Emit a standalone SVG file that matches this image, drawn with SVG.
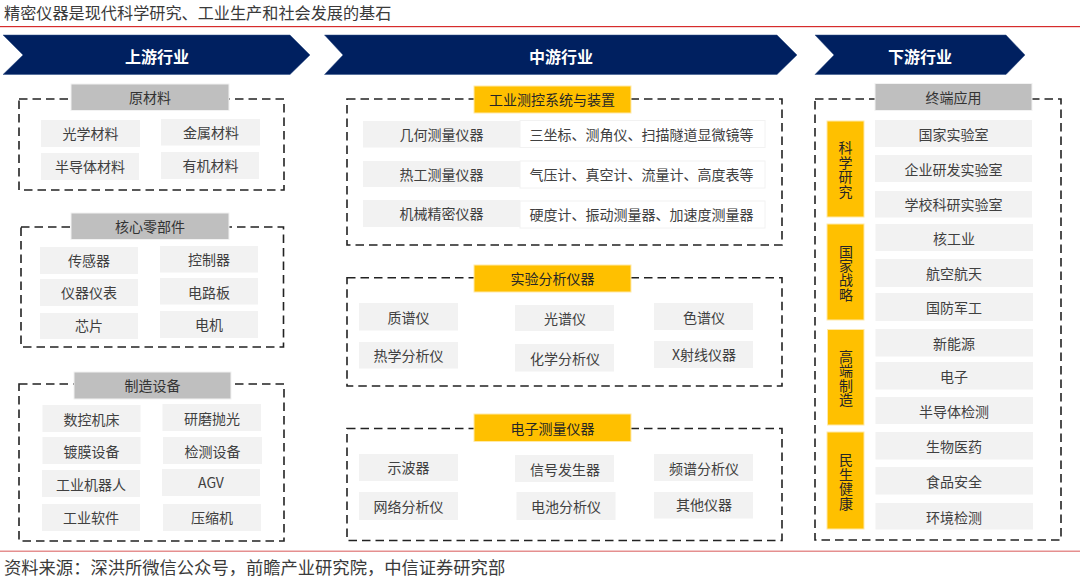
<svg xmlns="http://www.w3.org/2000/svg" width="1080" height="579" viewBox="0 0 1080 579">
<style>
text{font-family:"Noto Sans CJK SC","Noto Sans",sans-serif;font-size:14px;fill:#404040;text-anchor:middle}
.cap{font-size:16.15px;fill:#3a3a3a;text-anchor:start}
.src{font-size:17.3px;fill:#3a3a3a;text-anchor:start}
.arr{fill:#002060;stroke:#2f4f86;stroke-width:.5}
.arrt{font-size:16px;font-weight:700;fill:#fff}
.box{fill:none;stroke:#222;stroke-width:1.6;stroke-dasharray:8.5 5}
.gh{fill:#bfbfbf;stroke:#f2f2f2;stroke-width:1}
.yh{fill:#ffc000;stroke:#ffe9a8;stroke-width:1}
.it{fill:#f2f2f2}
.wh{fill:#fff;stroke:#f2f2f2;stroke-width:1}
.yt{fill:#262626}
.d{fill:#333}
</style>
<g id="header">
<text class="cap" x="4" y="18.5">精密仪器是现代科学研究、工业生产和社会发展的基石</text>
<rect x="0" y="26" width="1080" height="1.2" fill="#d62c2c"/>
</g>
<g id="upstream-banner"><polygon class="arr" points="3,35 290,35 310,55 290,74.5 3,74.5 23,55"/><text class="arrt" x="157" y="62.5">上游行业</text></g>
<g id="midstream-banner"><polygon class="arr" points="324.5,35 777,35 797,55 777,74.5 324.5,74.5 343,55"/><text class="arrt" x="561" y="62.5">中游行业</text></g>
<g id="downstream-banner"><polygon class="arr" points="815,35 1006,35 1025,55 1006,74.5 815,74.5 834,55"/><text class="arrt" x="920" y="62.5">下游行业</text></g>

<g id="raw-materials">
<rect class="box" x="19" y="99" width="265" height="91"/>
<g id="raw-title"><rect class="gh" x="71" y="84" width="158" height="26.5"/><text class="d" x="150" y="103">原材料</text></g>
<g id="raw-1"><rect class="it" x="41" y="120" width="99" height="27"/><text x="90.5" y="139">光学材料</text></g>
<g id="raw-2"><rect class="it" x="161" y="119" width="99" height="26.5"/><text x="211" y="138">金属材料</text></g>
<g id="raw-3"><rect class="it" x="41" y="153" width="98" height="27"/><text x="90" y="172">半导体材料</text></g>
<g id="raw-4"><rect class="it" x="161" y="152" width="98" height="27"/><text x="210.5" y="171">有机材料</text></g>
</g>

<g id="core-parts">
<rect class="box" x="21" y="227" width="262.5" height="120"/>
<g id="core-title"><rect class="gh" x="71" y="213" width="158" height="26.5"/><text class="d" x="150" y="232">核心零部件</text></g>
<g id="core-1"><rect class="it" x="40" y="247" width="98" height="27"/><text x="89" y="266">传感器</text></g>
<g id="core-2"><rect class="it" x="160" y="246" width="98" height="26.5"/><text x="209" y="265">控制器</text></g>
<g id="core-3"><rect class="it" x="40" y="279" width="98" height="27"/><text x="89" y="298">仪器仪表</text></g>
<g id="core-4"><rect class="it" x="160" y="278" width="98" height="26.5"/><text x="209" y="298">电路板</text></g>
<g id="core-5"><rect class="it" x="40" y="313" width="98" height="26"/><text x="89" y="331">芯片</text></g>
<g id="core-6"><rect class="it" x="160" y="311" width="98" height="27"/><text x="209" y="330">电机</text></g>
</g>

<g id="equipment">
<rect class="box" x="19" y="384" width="265" height="157"/>
<g id="equip-title"><rect class="gh" x="74" y="372" width="157" height="27"/><text class="d" x="152.5" y="391">制造设备</text></g>
<g id="equip-1"><rect class="it" x="42.5" y="405" width="98" height="27"/><text x="91.5" y="425">数控机床</text></g>
<g id="equip-2"><rect class="it" x="162.5" y="404" width="98.5" height="27"/><text x="212" y="424">研磨抛光</text></g>
<g id="equip-3"><rect class="it" x="42.5" y="437" width="98" height="27"/><text x="91.5" y="457">镀膜设备</text></g>
<g id="equip-4"><rect class="it" x="163" y="437" width="99" height="27"/><text x="212.5" y="457">检测设备</text></g>
<g id="equip-5"><rect class="it" x="42" y="470" width="98" height="27"/><text x="91" y="490">工业机器人</text></g>
<g id="equip-6"><rect class="it" x="162" y="469" width="98" height="27"/><text x="211" y="488">AGV</text></g>
<g id="equip-7"><rect class="it" x="42" y="504" width="98" height="27"/><text x="91" y="523">工业软件</text></g>
<g id="equip-8"><rect class="it" x="163" y="504" width="98" height="27"/><text x="212" y="523">压缩机</text></g>
</g>

<g id="control-systems">
<rect class="box" x="347" y="99" width="435" height="146"/>
<g id="ctrl-title"><rect class="yh" x="474" y="86" width="157" height="27"/><text class="yt" x="552" y="105">工业测控系统与装置</text></g>
<g id="ctrl-1"><rect class="it" x="363" y="121" width="157" height="26.5"/><text x="441.5" y="140">几何测量仪器</text><rect class="wh" x="520" y="120.5" width="245" height="27"/><text x="641.5" y="140">三坐标、测角仪、扫描隧道显微镜等</text></g>
<g id="ctrl-2"><rect class="it" x="363" y="161" width="157" height="26"/><text x="441.5" y="180">热工测量仪器</text><rect class="wh" x="520" y="161" width="245" height="27"/><text x="641.5" y="180">气压计、真空计、流量计、高度表等</text></g>
<g id="ctrl-3"><rect class="it" x="363" y="200" width="157" height="27"/><text x="441.5" y="219">机械精密仪器</text><rect class="wh" x="520" y="201" width="245" height="27"/><text x="641.5" y="220">硬度计、振动测量器、加速度测量器</text></g>
</g>

<g id="lab-analysis">
<rect class="box" x="347" y="277.7" width="435" height="108.3"/>
<g id="lab-title"><rect class="yh" x="474" y="265" width="157" height="27"/><text class="yt" x="552.5" y="284">实验分析仪器</text></g>
<g id="lab-1"><rect class="it" x="359" y="303" width="99" height="27.5"/><text x="408.5" y="323">质谱仪</text></g>
<g id="lab-2"><rect class="it" x="515" y="305" width="99" height="26"/><text x="565" y="324">光谱仪</text></g>
<g id="lab-3"><rect class="it" x="654" y="303" width="99" height="27"/><text x="704" y="323">色谱仪</text></g>
<g id="lab-4"><rect class="it" x="359" y="342" width="99" height="26.5"/><text x="408.5" y="361">热学分析仪</text></g>
<g id="lab-5"><rect class="it" x="515" y="344" width="99" height="27.5"/><text x="565" y="364">化学分析仪</text></g>
<g id="lab-6"><rect class="it" x="654" y="341" width="99" height="27"/><text x="704" y="360">X射线仪器</text></g>
</g>

<g id="electronic">
<rect class="box" x="347" y="428.5" width="435" height="112"/>
<g id="elec-title"><rect class="yh" x="474" y="414" width="157" height="27.5"/><text class="yt" x="552.5" y="434">电子测量仪器</text></g>
<g id="elec-1"><rect class="it" x="359" y="454" width="99" height="27"/><text x="408.5" y="473">示波器</text></g>
<g id="elec-2"><rect class="it" x="515" y="455" width="99" height="27"/><text x="565" y="475">信号发生器</text></g>
<g id="elec-3"><rect class="it" x="654" y="454" width="99" height="27"/><text x="704" y="474">频谱分析仪</text></g>
<g id="elec-4"><rect class="it" x="359" y="492" width="99" height="28"/><text x="408.5" y="512">网络分析仪</text></g>
<g id="elec-5"><rect class="it" x="516.5" y="492" width="99" height="28"/><text x="566" y="512">电池分析仪</text></g>
<g id="elec-6"><rect class="it" x="654" y="492" width="99" height="26.5"/><text x="704" y="510">其他仪器</text></g>
</g>

<g id="applications">
<rect class="box" x="815" y="99" width="246" height="441"/>
<g id="app-title"><rect class="gh" x="875" y="83.5" width="157" height="27"/><text class="d" x="953.5" y="103">终端应用</text></g>
<g id="cat-science"><rect class="yh" x="827" y="121" width="37" height="96"/><text class="yt" x="845.5" y="153"><tspan x="845.5">科</tspan><tspan x="845.5" dy="14.7">学</tspan><tspan x="845.5" dy="14.7">研</tspan><tspan x="845.5" dy="14.7">究</tspan></text></g>
<g id="cat-strategy"><rect class="yh" x="827" y="224" width="37" height="96"/><text class="yt" x="846" y="256.7"><tspan x="846">国</tspan><tspan x="846" dy="14.3">家</tspan><tspan x="846" dy="14.3">战</tspan><tspan x="846" dy="14.3">略</tspan></text></g>
<g id="cat-manufacturing"><rect class="yh" x="827.5" y="329.5" width="36.5" height="95.5"/><text class="yt" x="846" y="361.7"><tspan x="846">高</tspan><tspan x="846" dy="14.5">端</tspan><tspan x="846" dy="14.5">制</tspan><tspan x="846" dy="14.5">造</tspan></text></g>
<g id="cat-health"><rect class="yh" x="827" y="432" width="37" height="97"/><text class="yt" x="846" y="465"><tspan x="846">民</tspan><tspan x="846" dy="14.5">生</tspan><tspan x="846" dy="14.5">健</tspan><tspan x="846" dy="14.5">康</tspan></text></g>
<g id="app-1"><rect class="it" x="875" y="120" width="157" height="27"/><text x="953.5" y="140">国家实验室</text></g>
<g id="app-2"><rect class="it" x="875" y="155" width="157" height="27"/><text x="953.5" y="175">企业研发实验室</text></g>
<g id="app-3"><rect class="it" x="875" y="191" width="157" height="26.5"/><text x="953.5" y="210">学校科研实验室</text></g>
<g id="app-4"><rect class="it" x="875.5" y="224" width="157.5" height="27"/><text x="954" y="244">核工业</text></g>
<g id="app-5"><rect class="it" x="875.5" y="259" width="157.5" height="28"/><text x="954" y="279">航空航天</text></g>
<g id="app-6"><rect class="it" x="875.5" y="293" width="157.5" height="28"/><text x="954" y="313">国防军工</text></g>
<g id="app-7"><rect class="it" x="875.5" y="329" width="157.5" height="27.5"/><text x="954" y="349">新能源</text></g>
<g id="app-8"><rect class="it" x="875.5" y="362" width="157.5" height="27.5"/><text x="954" y="382">电子</text></g>
<g id="app-9"><rect class="it" x="875.5" y="397" width="157.5" height="27"/><text x="954" y="417">半导体检测</text></g>
<g id="app-10"><rect class="it" x="875.5" y="432" width="157.5" height="27.5"/><text x="954" y="452">生物医药</text></g>
<g id="app-11"><rect class="it" x="875.5" y="467" width="157.5" height="27.5"/><text x="954" y="487">食品安全</text></g>
<g id="app-12"><rect class="it" x="875.5" y="503" width="157.5" height="26.5"/><text x="954" y="523">环境检测</text></g>
</g>

<g id="footer">
<rect x="0" y="550.5" width="1080" height="1.5" fill="#e58f8f"/>
<text class="src" x="4" y="574">资料来源：深洪所微信公众号，前瞻产业研究院，中信证券研究部</text>
</g>
</svg>
